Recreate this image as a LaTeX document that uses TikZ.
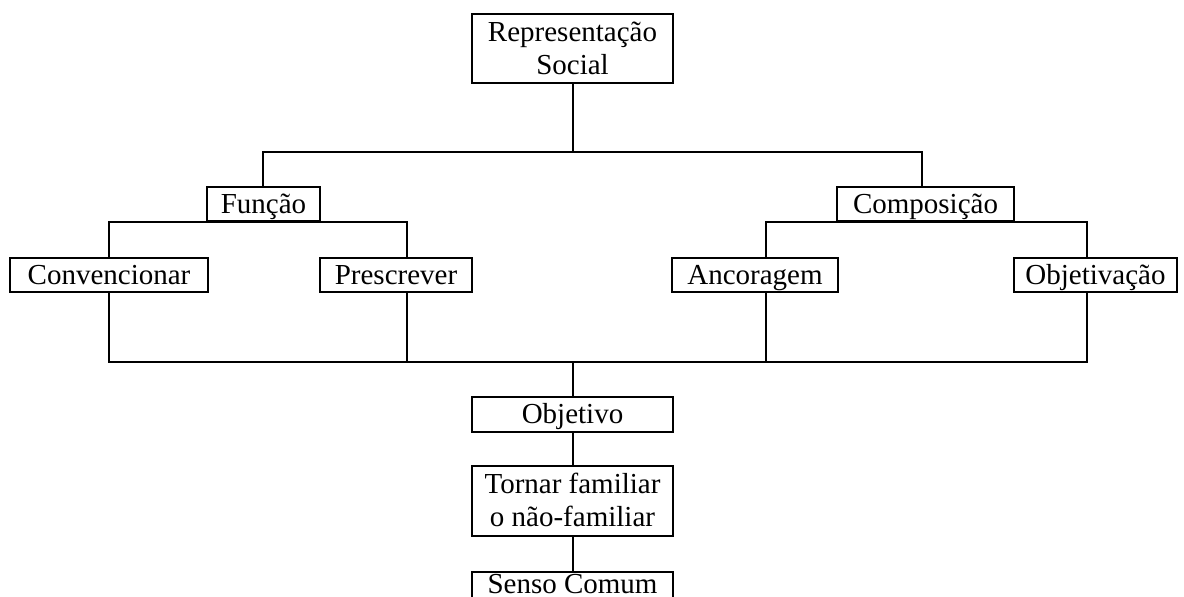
\documentclass[tikz,border=0pt]{standalone}
\usepackage{fontspec}
\setmainfont{Liberation Serif}
\tikzset{
    caixa/.style={draw, line width=1pt, inner sep=0pt, align=center,
        text height=13pt, text depth=3.5pt,
        minimum height=17pt, font=\fontsize{14.5}{16.5}\selectfont},
    duas/.style={text height=29.5pt},
    linha/.style={line width=1pt}
}
\begin{document}
\begin{tikzpicture}[x=0.5pt, y=-0.5pt]
        \useasboundingbox (0, 0) rectangle (1184, 597);

        %%draw the boxes
        \node[caixa, duas, minimum width=100.5pt, minimum height=34.5pt] (rep) at(572.5, 48.5){Representação\\Social};
        \node[caixa, minimum width=56.5pt] (func) at(263.5, 204){Função};
        \node[caixa, minimum width=88.5pt] (comp) at(925.5, 204){Composição};
        \node[caixa, minimum width=99pt] (conv) at(109, 275){Convencionar};
        \node[caixa, minimum width=76pt] (presc) at(396, 275){Prescrever};
        \node[caixa, minimum width=83pt] (anc) at(755, 275){Ancoragem};
        \node[caixa, minimum width=81.5pt] (objv) at(1095.5, 275){Objetivação};
        \node[caixa, minimum width=100.5pt, minimum height=17.5pt] (obj) at(572.5, 414.5){Objetivo};
        \node[caixa, duas, minimum width=100.5pt, minimum height=35pt] (torn) at(572.5, 501){Tornar familiar\\o não-familiar};
        \node[caixa, minimum width=100.5pt, text height=11pt, text depth=6pt, anchor=north] (senso) at(572.5, 571){Senso Comum};

        %%the bars
        \coordinate (topL) at(263, 152);
        \coordinate (topR) at(922, 152);
        \coordinate (funL) at(109, 222);
        \coordinate (funR) at(407, 222);
        \coordinate (comL) at(766, 222);
        \coordinate (comR) at(1087, 222);
        \coordinate (baseL) at(109, 362);
        \coordinate (baseP) at(407, 362);
        \coordinate (baseA) at(766, 362);
        \coordinate (baseR) at(1087, 362);

        %%draw the lines
        \draw[linha] (rep.south) to (rep.south |- topL);
        \draw[linha] (func.north -| topL) -- (topL) -- (topR) -- (comp.north -| topR);
        \draw[linha] (conv.north -| funL) -- (funL) -- (funR) -- (presc.north -| funR);
        \draw[linha] (anc.north -| comL) -- (comL) -- (comR) -- (objv.north -| comR);
        \draw[linha] (conv.south -| baseL) -- (baseL) -- (baseR) -- (objv.south -| baseR);
        \draw[linha] (presc.south -| baseP) to (baseP);
        \draw[linha] (anc.south -| baseA) to (baseA);
        \draw[linha] (obj.north |- baseL) to (obj.north);
        \draw[linha] (obj.south) to (torn.north);
        \draw[linha] (torn.south) to (senso.north);

    \end{tikzpicture}
\end{document}
